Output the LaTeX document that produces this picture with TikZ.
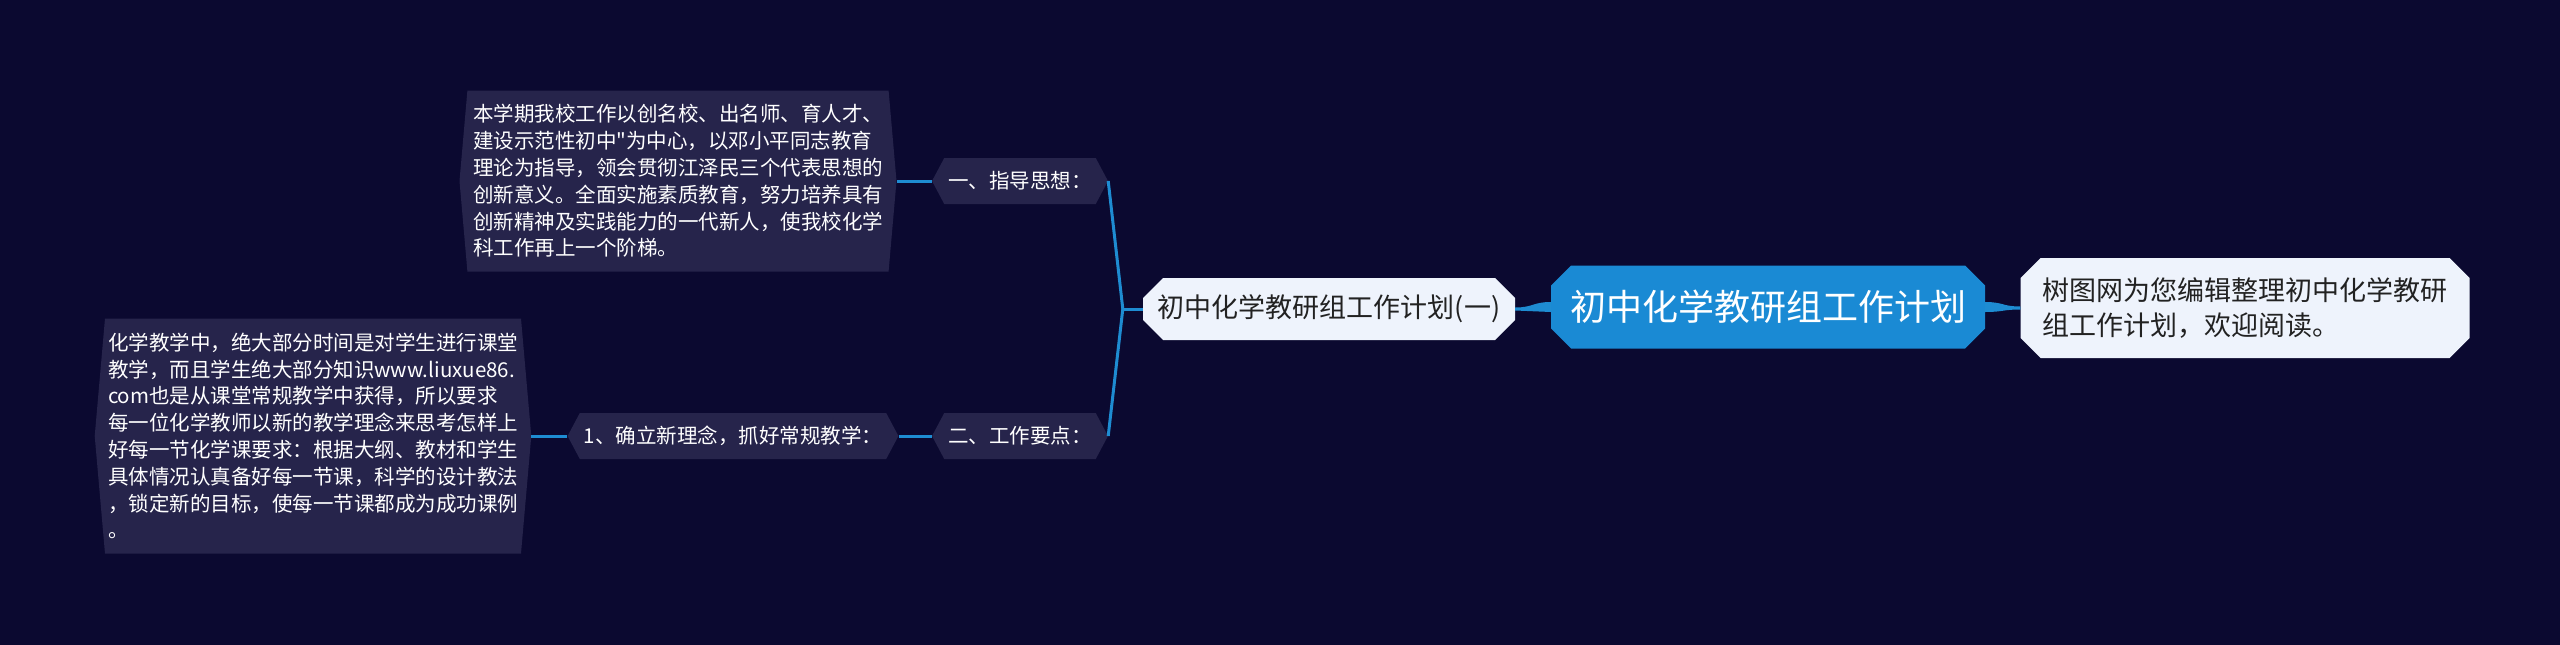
\documentclass[tikz,border=0pt]{standalone}
\usepackage{fontspec}
\setmainfont{Noto Sans CJK SC}[Ligatures=TeXOff]
\usetikzlibrary{positioning,calc,shapes.symbols,shapes.misc}
\definecolor{bgnavy}{HTML}{0B0930}
\definecolor{hexfill}{HTML}{26244B}
\definecolor{paleblue}{HTML}{EEF3FC}
\definecolor{rootblue}{HTML}{1A8AD4}
\definecolor{linkblue}{HTML}{1E8CD2}
\definecolor{inkdark}{HTML}{222222}
\tikzset{
  hexnode/.style={signal, signal to=east and west, signal pointer angle=124,
    fill=hexfill, text=white, font=\fontsize{20.5}{26.8}\selectfont,
    inner xsep=4pt, inner ysep=0pt, minimum height=46pt},
  notebox/.style={hexnode, signal pointer angle=170, align=left, inner xsep=3pt},
  palenode/.style={chamfered rectangle, chamfered rectangle xsep=10pt,
    chamfered rectangle ysep=10pt, fill=paleblue, text=inkdark, inner sep=0pt},
  link/.style={draw=linkblue, line width=3pt},
}

\begin{document}
\begin{tikzpicture}[x=1pt,y=-1pt]
    \fill[bgnavy] (0,0) rectangle (2560,645);
    \useasboundingbox (0,0) rectangle (2560,645);
    % centre and right note
    \node[palenode, fill=rootblue, text=white, font=\fontsize{36}{40}\selectfont,
      minimum width=434pt, minimum height=83pt] (root) at (1768,307) {初中化学教研组工作计划};
    \node[palenode, font=\fontsize{27}{35}\selectfont, align=left,
      minimum width=449pt, minimum height=100pt] (intro) at (2245,308)
      {树图网为您编辑整理初中化学教研\\组工作计划，欢迎阅读。};
    % left branch
    \node[palenode, font=\fontsize{27}{30}\selectfont,
      minimum width=372pt, minimum height=62pt] (plan) at (1329,309) {初中化学教研组工作计划(一)};
    \node[hexnode, minimum width=164pt] (guide) at (1020,181) {一、指导思想：};
    \node[hexnode, minimum width=164pt] (points) at (1020,436) {二、工作要点：};
    \node[hexnode, minimum width=320pt] (idea) at (733,436) {1、确立新理念，抓好常规教学：};
    \node[notebox, minimum width=437pt, minimum height=181pt] (guidetxt) at (678,181)
      {本学期我校工作以创名校、出名师、育人才、\\
       建设示范性初中"为中心，以邓小平同志教育\\
       理论为指导，领会贯彻江泽民三个代表思想的\\
       创新意义。全面实施素质教育，努力培养具有\\
       创新精神及实践能力的一代新人，使我校化学\\
       科工作再上一个阶梯。};
    \node[notebox, minimum width=427pt, minimum height=235pt] (ideatxt) at (313,436)
      {化学教学中，绝大部分时间是对学生进行课堂\\
       教学，而且学生绝大部分知识www.liuxue86.\\
       com也是从课堂常规教学中获得，所以要求\\
       每一位化学教师以新的教学理念来思考怎样上\\
       好每一节化学课要求：根据大纲、教材和学生\\
       具体情况认真备好每一节课，科学的设计教法\\
       ，锁定新的目标，使每一节课都成为成功课例\\
       。};
    % tapered links from root
    \fill[linkblue] ($(root.east)+(0,-5)$) .. controls +(18,0) and +(-18,0) .. ($(intro.west)+(0,-1.5)$)
      -- ($(intro.west)+(0,1.5)$) .. controls +(-18,0) and +(18,0) .. ($(root.east)+(0,5)$) -- cycle;
    \fill[linkblue] ($(root.west)+(0,-5)$) .. controls +(-18,0) and +(18,0) .. ($(plan.east)+(0,-1.5)$)
      -- ($(plan.east)+(0,1.5)$) .. controls +(18,0) and +(-18,0) .. ($(root.west)+(0,5)$) -- cycle;
    % fork
    \draw[link] (plan.west) -- ++(-20,0) coordinate (fork);
    \draw[link] (fork) -- (guide.east);
    \draw[link] (fork) -- (points.east);
    \draw[link] (guide.west) -- (guidetxt.east);
    \draw[link] (points.west) -- (idea.east);
    \draw[link] (idea.west) -- (ideatxt.east);
\end{tikzpicture}
\end{document}
